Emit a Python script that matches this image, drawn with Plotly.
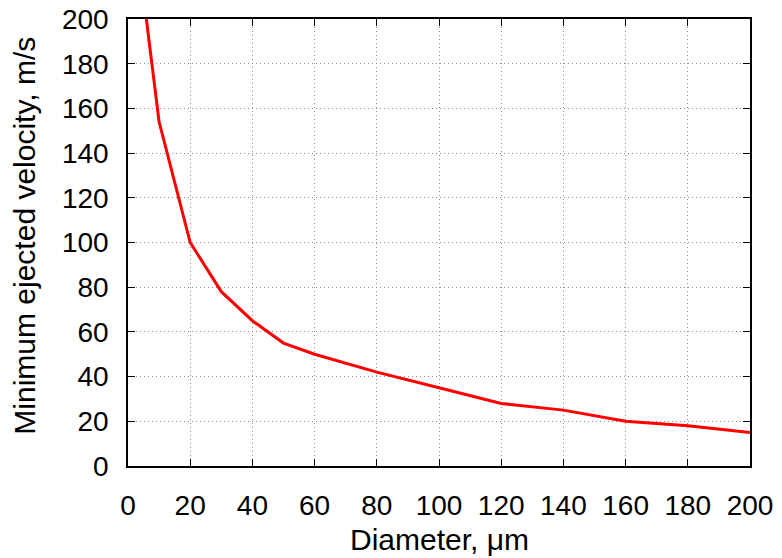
import plotly.graph_objects as go

diameter_um = [5, 10, 20, 30, 40, 50, 60, 80, 100, 120, 140, 160, 180, 200]
min_velocity_ms = [210, 154, 100, 78, 65, 55, 50, 42, 35, 28, 25, 20, 18, 15]

x_ticks = [0, 20, 40, 60, 80, 100, 120, 140, 160, 180, 200]
y_ticks = [0, 20, 40, 60, 80, 100, 120, 140, 160, 180, 200]
x_title = "Diameter, μm"
y_title = "Minimum ejected velocity, m/s"

W, H = 782, 558
OFF = 8  # page body margin offset
ml, mr, mt, mb = 127.5 - OFF, 782 - 750.5 + OFF, 19 - OFF, 558 - 466 + OFF
pw, ph = W - ml - mr, H - mt - mb

FONT = "Liberation Sans, Arial, Helvetica, sans-serif"

fig = go.Figure()
fig.add_trace(go.Scatter(
    x=diameter_um, y=min_velocity_ms, mode="lines",
    line=dict(color="#ff0000", width=3),
    showlegend=False,
))

axis_common = dict(
    showline=True, linecolor="black", linewidth=1.6, mirror="ticks",
    ticks="inside", ticklen=7, tickwidth=1.2, tickcolor="black",
    showgrid=True, gridcolor="#8c8c8c", gridwidth=1, griddash="1px,3px",
    zeroline=False,
    tickfont=dict(family=FONT, size=28, color="black"),
)

fig.update_xaxes(range=[-1e-6, 200 + 1e-6], tickvals=x_ticks, ticktext=[str(v) for v in x_ticks],
                 ticklabelstandoff=14, **axis_common)
fig.update_yaxes(range=[-1e-6, 200 + 1e-6], tickvals=y_ticks, ticktext=[str(v) for v in y_ticks],
                 ticklabelstandoff=12, ticklabeloverflow="allow", **axis_common)

# title positions in screenshot pixels, converted to figure paper coords
fig.add_annotation(text=x_title, xref="paper", yref="paper",
                   x=(439 - OFF - ml) / pw, y=-(539 - OFF - (H - mb)) / ph,
                   xanchor="center", yanchor="middle", showarrow=False,
                   font=dict(family=FONT, size=30, color="black"))
fig.add_annotation(text=y_title, xref="paper", yref="paper",
                   x=-(ml - (23 - OFF)) / pw, y=((H - mb) - (236 - OFF)) / ph,
                   xanchor="center", yanchor="middle", showarrow=False, textangle=-90,
                   font=dict(family=FONT, size=30, color="black"))

fig.update_layout(
    width=W, height=H,
    margin=dict(l=ml, r=mr, t=mt, b=mb, autoexpand=False),
    paper_bgcolor="white", plot_bgcolor="white",
)

fig.write_html("out.html")
